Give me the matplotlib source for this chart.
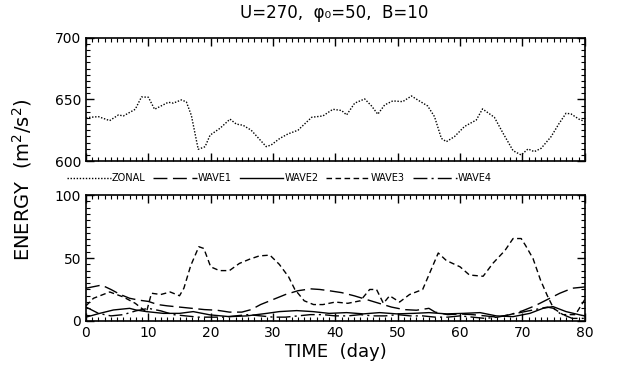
import matplotlib
matplotlib.use("Agg")
import matplotlib.pyplot as plt
from matplotlib.ticker import MultipleLocator

# zonal energy (top panel)
zonal_day = [0, 0.6, 2.0, 3.8, 5.2, 6.0, 7.9, 8.9, 10.0, 11.0, 13.2, 14.0, 15.3, 16.1, 16.9,
             18.0, 19.1, 19.9, 21.5, 23.1, 24.1, 25.2, 26.5, 28.9, 29.7, 31.1, 32.4, 34.0,
             36.2, 38.0, 39.6, 41.0, 41.8, 43.1, 44.7, 45.8, 46.8, 47.9, 49.2, 50.8, 52.2,
             53.2, 54.8, 55.9, 57.0, 57.8, 59.1, 60.7, 62.6, 63.6, 65.5, 66.9, 68.5, 69.8,
             70.9, 71.9, 73.0, 74.6, 75.9, 77.0, 77.8, 79.1, 80]
zonal_val = [635, 635.5, 636, 632.8, 637.4, 636.6, 642, 652, 651.8, 642, 647.7, 647, 649.6, 648, 637,
             609.5, 611.6, 621, 626.6, 634, 630, 629, 625, 611.7, 613, 618.4, 622, 625,
             635.5, 636.6, 642, 641, 637.4, 647, 650.4, 644.7, 638, 645.5, 648.8, 648.2, 652.8,
             649.6, 644.7, 636, 618.4, 615.7, 619.8, 628, 633.3, 642.3, 635.5, 622.5, 608.4, 604.9,
             609.8, 607.6, 610.3, 619.8, 630.6, 638.8, 638.2, 633.9, 632]

# wave energies (bottom panel)
wave1_day = [0, 1, 2.5, 4, 5.5, 7, 8.5, 10, 11.5, 13, 15, 17, 19, 21, 23, 25, 26.5, 28, 30, 32,
             34, 36, 37.5, 39, 41, 43, 45, 47, 49, 51, 53, 55, 56, 58, 60, 62, 64, 66, 68, 70,
             72, 74, 76, 78, 80]
wave1_val = [26, 27, 28.5, 25, 21, 18, 16.5, 15.5, 13, 12, 11, 10, 9, 8.5, 7, 7, 9, 13, 17, 21,
             24, 25.5, 25, 24, 22.5, 20, 17, 14, 11, 9, 8.5, 10, 7, 5, 5.5, 5, 4, 3, 5, 8,
             12, 17, 22, 26, 27]

wave2_day = [0, 2.2, 4.4, 7, 8, 9.7, 12.4, 15, 17.2, 19.9, 23, 25.8, 29, 31, 33.8, 36.4, 39,
             41.8, 44.5, 47.1, 49.8, 52.5, 55, 57.8, 60.5, 63.2, 65.8, 68.5, 71.2, 73.3, 74.9,
             77, 79.2, 80]
wave2_val = [3, 6, 8.7, 10, 8.7, 7.4, 6, 6, 7.4, 4.8, 3.4, 4, 6, 7.4, 8.2, 7.4, 6,
             6.6, 5.6, 6.6, 5.6, 6, 6.6, 5.6, 6, 6.6, 4, 3.4, 6, 10, 11.4,
             7.4, 4.8, 4]

wave3_day = [0, 1.2, 3.8, 6, 7.9, 9.7, 10.5, 12, 13.5, 15, 15.7, 16.8, 18.1, 18.9, 20, 21.4,
             23, 24.6, 26.2, 27.8, 29.5, 31, 32.5, 33.5, 35, 36.5, 38, 40, 42, 44, 45.5, 46.6,
             47.7, 48.7, 50.3, 51.9, 54, 56.5, 57.8, 60, 61.5, 63.7, 65.3, 67.2, 68.5, 69.8,
             70.5, 71.7, 72.9, 74, 75, 76.5, 78.5, 80]
wave3_val = [12, 18, 23, 19, 14, 7, 22, 21, 23, 20, 26, 44, 59, 57.6, 43, 40,
             40, 45.7, 49, 51.7, 52.3, 45, 35, 25, 16, 13, 13, 15, 14, 16, 25, 25,
             14, 20, 15, 21, 25, 54, 48, 43, 36.5, 35.5, 46, 56, 65.5, 65.5,
             60, 49.6, 32.5, 20, 10, 5, 5, 17]

wave4_day = [0, 2, 4, 6, 8, 10, 12, 14, 16, 18, 20, 22, 24, 26, 28, 30, 32, 34, 36, 38, 40,
             42, 44, 46, 48, 50, 52, 54, 56, 58, 60, 62, 64, 66, 68, 70, 72, 74, 75, 76, 78, 80]
wave4_val = [11, 6, 4, 5, 8, 10, 8, 5, 4, 3, 3, 3, 4, 5, 4, 3, 3, 4, 5, 5, 4,
             4, 5, 4, 4, 5, 4, 4, 3, 3, 4, 3, 2, 3, 5, 7, 9, 11, 10, 6, 2, 2]

fig = plt.figure(figsize=(6.37, 3.71), dpi=100)
ax1 = fig.add_axes([0.135, 0.566, 0.783, 0.332])
ax2 = fig.add_axes([0.135, 0.135, 0.783, 0.339])

l0, = ax1.plot(zonal_day, zonal_val, color="k", lw=1.0, ls=(0, (1, 1.2)))
l1, = ax2.plot(wave1_day, wave1_val, color="k", lw=1.0, ls=(0, (10, 4)))
l2, = ax2.plot(wave2_day, wave2_val, color="k", lw=1.0, ls="-")
l3, = ax2.plot(wave3_day, wave3_val, color="k", lw=1.0, ls=(0, (4, 2.5)))
l4, = ax2.plot(wave4_day, wave4_val, color="k", lw=1.0, ls=(0, (10, 3, 1.5, 3)))

ax1.set_ylim(600, 700)
ax2.set_ylim(0, 100)
for ax in (ax1, ax2):
    ax.set_xlim(0, 80)
    ax.xaxis.set_major_locator(MultipleLocator(10))
    ax.xaxis.set_minor_locator(MultipleLocator(1))
    ax.yaxis.set_major_locator(MultipleLocator(50))
    ax.yaxis.set_minor_locator(MultipleLocator(5))
    ax.tick_params(which="both", direction="in", top=True, right=True, labelsize=10)
    ax.tick_params(which="major", length=6, width=1)
    ax.tick_params(which="minor", length=3, width=0.8)
    for s in ax.spines.values():
        s.set_linewidth(1.2)
ax1.tick_params(labelbottom=False)

ax2.set_xlabel("TIME  (day)", fontsize=13, labelpad=2)
fig.text(0.035, 0.515, "ENERGY  (m$^2$/s$^2$)", rotation=90, fontsize=14,
         ha="center", va="center")
fig.text(0.525, 0.965, "U=270,  \u03c6\u2080=50,  B=10", fontsize=12,
         ha="center", va="center")

fig.legend([l0, l1, l2, l3, l4], ["ZONAL", "WAVE1", "WAVE2", "WAVE3", "WAVE4"],
           loc="center left", bbox_to_anchor=(0.105, 0.52), ncol=5, frameon=False,
           fontsize=7, handlelength=4.5, handletextpad=0.1, columnspacing=0.8,
           borderaxespad=0, borderpad=0)

fig.savefig("out.png", dpi=100)
